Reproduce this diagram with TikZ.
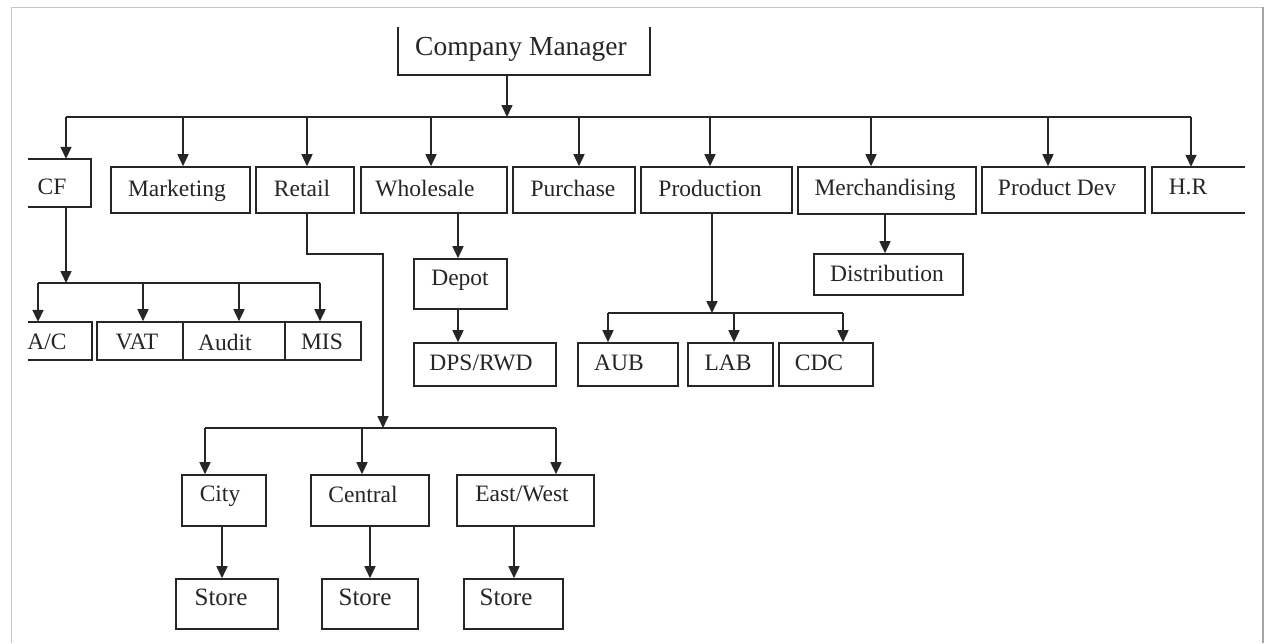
\documentclass[tikz,border=0pt]{standalone}
\usepackage{fontspec}
\setmainfont{Liberation Serif}
\usetikzlibrary{arrows.meta}
% \obox[style]{name}{x1}{y1}{x2}{y2}{text x}{text y}{text}
\newcommand\obox[9][box]{%
  \node[#1, minimum width={(#5-#3)*1pt}, minimum height={(#6-#4)*1pt},
    label={[xshift={(#7-(#3+#5)/2)*1pt}, yshift={((#4+#6)/2-#8)*1pt}]center:#9}]
    (#2) at ({(#3+#5)/2},{(#4+#6)/2}) {};}
\begin{document}
\begin{tikzpicture}[x=1pt,y=-1pt,
  line/.style={draw=black!85, line width=1.6pt},
  arr/.style={line, -{Triangle[length=12pt,width=11pt]}},
  box/.style={draw=black!85, line width=1.6pt, inner sep=0pt},
  openbox/.style={inner sep=0pt},
  every label/.style={font=\fontsize{23.5}{26}\selectfont, inner sep=0pt, text depth=0pt, text=black!85},
]
\useasboundingbox (0,0) rectangle (1267,643);
\fill[white] (0,0) rectangle (1267,643);
% frame of the screenshot
\draw[gray!45, line width=1pt] (11,643) -- (11,7) -- (1263,7);
\draw[gray!70, line width=2.5pt] (1263,7) -- (1263,643);

% boxes
\obox[openbox]{cm}{398}{27}{650}{75}{521}{46}{\fontsize{27.5}{30}\selectfont Company Manager}
\obox[openbox]{cf}{28}{159}{91}{207}{52}{187}{CF}
\obox{mkt}{111}{167}{250}{213}{177}{188}{Marketing}
\obox{ret}{256}{167}{354}{213}{302}{188}{Retail}
\obox{whl}{361}{167}{507}{213}{425}{188}{Wholesale}
\obox{pur}{513}{167}{635}{213}{573}{188}{Purchase}
\obox{prd}{641}{167}{792}{213}{710}{188}{Production}
\obox{mer}{798}{167}{976}{214}{885}{187}{Merchandising}
\obox{pdv}{982}{167}{1145}{213}{1057}{187}{Product Dev}
\obox[openbox]{hr}{1152}{167}{1245}{213}{1188}{187}{H.R}
\obox{dis}{814}{254}{963}{295}{887}{273}{Distribution}
\obox[openbox]{ac}{28}{322}{92}{360}{47}{342}{A/C}
\obox{vat}{97}{322}{183}{360}{137}{342}{VAT}
\obox{aud}{183}{322}{285}{360}{225}{342}{Audit}
\obox{mis}{285}{322}{361}{360}{322}{342}{MIS}
\obox{dep}{414}{259}{507}{309}{460}{278}{Depot}
\obox{dps}{414}{343}{556}{386}{481}{363}{DPS/RWD}
\obox{aub}{578}{343}{678}{386}{619}{363}{AUB}
\obox{lab}{688}{343}{773}{386}{728}{363}{LAB}
\obox{cdc}{779}{343}{873}{386}{819}{363}{CDC}
\obox{city}{182}{475}{266}{526}{220}{494}{City}
\obox{cen}{311}{475}{429}{526}{363}{494}{Central}
\obox{ew}{457}{475}{594}{526}{522}{494}{East/West}
\obox{s1}{176}{579}{278}{629}{221}{597}{\fontsize{25}{28}\selectfont Store}
\obox{s2}{322}{579}{418}{629}{365}{597}{\fontsize{25}{28}\selectfont Store}
\obox{s3}{464}{579}{563}{629}{506}{597}{\fontsize{25}{28}\selectfont Store}

% open box outlines
\draw[line] (cm.north west) -- (cm.south west) -- (cm.south east) -- (cm.north east);
\draw[line] (cf.north west) -- (cf.north east) -- (cf.south east) -- (cf.south west);
\draw[line] (ac.north west) -- (ac.north east) -- (ac.south east) -- (ac.south west);
\draw[line] (hr.north east) -- (hr.north west) -- (hr.south west) -- (hr.south east);

% top level
\coordinate (bus) at (507,117);
\draw[arr] (cm.south -| bus) -- (bus);
\coordinate (busL) at (66,117);
\coordinate (busR) at (1191,117);
\draw[line] (busL) -- (busR);
\foreach \n/\x in {cf/66, mkt/183, ret/307, whl/431, pur/579, prd/710, mer/871, pdv/1048, hr/1191}{
  \coordinate (d) at (\x,117);
  \draw[arr] (d) -- (d |- \n.north);
}

% CF branch
\coordinate (cfb) at (66,283);
\draw[arr] (cfb |- cf.south) -- (cfb);
\coordinate (cfL) at (38,283);
\coordinate (cfR) at (320,283);
\draw[line] (cfL) -- (cfR);
\foreach \n/\x in {ac/38, vat/143, aud/239, mis/320}{
  \coordinate (d) at (\x,283);
  \draw[arr] (d) -- (d |- \n.north);
}

% Retail branch
\coordinate (rk) at (383,254);
\coordinate (rb) at (383,428);
\draw[arr] (ret.south -| 307,0) |- (rk) -- (rb);
\coordinate (rL) at (205,428);
\coordinate (rR) at (556,428);
\draw[line] (rL) -- (rR);
\foreach \n/\x in {city/205, cen/362, ew/556}{
  \coordinate (d) at (\x,428);
  \draw[arr] (d) -- (d |- \n.north);
}
\foreach \a/\b/\x in {city/s1/222, cen/s2/370, ew/s3/514}{
  \coordinate (d) at (\x,0);
  \draw[arr] (d |- \a.south) -- (d |- \b.north);
}

% Wholesale branch
\coordinate (wd) at (458,0);
\draw[arr] (wd |- whl.south) -- (wd |- dep.north);
\draw[arr] (wd |- dep.south) -- (wd |- dps.north);

% Production branch
\coordinate (pb) at (712,313);
\draw[arr] (pb |- prd.south) -- (pb);
\coordinate (pL) at (608,313);
\coordinate (pR) at (843,313);
\draw[line] (pL) -- (pR);
\foreach \n/\x in {aub/608, lab/734, cdc/843}{
  \coordinate (d) at (\x,313);
  \draw[arr] (d) -- (d |- \n.north);
}

% Merchandising branch
\coordinate (md) at (885,0);
\draw[arr] (md |- mer.south) -- (md |- dis.north);
\end{tikzpicture}
\end{document}
